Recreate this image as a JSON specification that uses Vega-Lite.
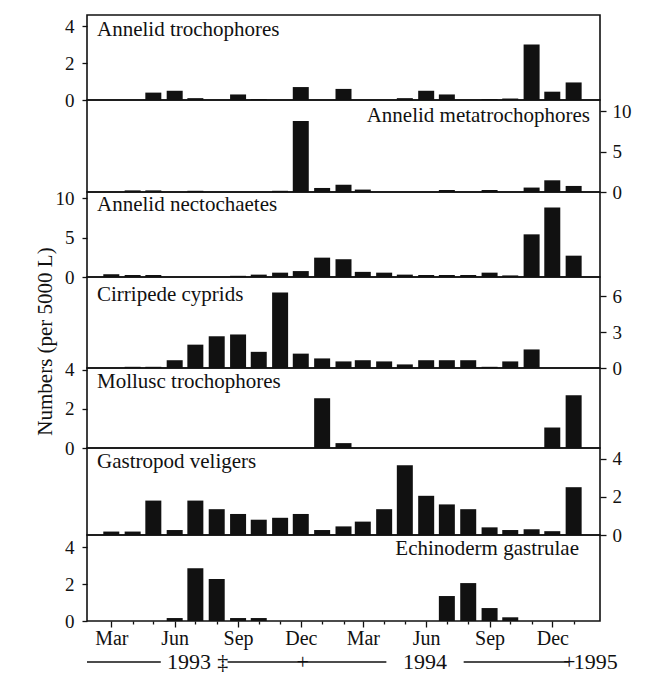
{
  "$schema": "https://vega.github.io/schema/vega-lite/v6.json",
  "padding": {"left": 33, "top": 14, "right": 0, "bottom": 0},
  "background": "#ffffff",
  "config": {
    "font": "Liberation Serif",
    "view": {"stroke": "#111111", "strokeWidth": 1.6},
    "axis": {
      "labelFont": "Liberation Serif",
      "labelFontSize": 19,
      "labelColor": "#111111",
      "labelOverlap": false,
      "tickColor": "#111111",
      "tickWidth": 1.3,
      "domain": false,
      "grid": false,
      "titleFont": "Liberation Serif",
      "titleFontSize": 21,
      "titleFontWeight": "normal",
      "titleColor": "#111111"
    },
    "bar": {"color": "#111111", "size": 16}
  },
  "datasets": {
    "counts": [
      {"taxon": "Annelid trochophores", "month": "1993-05-01", "count": 0.4},
      {"taxon": "Annelid trochophores", "month": "1993-06-01", "count": 0.5},
      {"taxon": "Annelid trochophores", "month": "1993-07-01", "count": 0.1},
      {"taxon": "Annelid trochophores", "month": "1993-09-01", "count": 0.3},
      {"taxon": "Annelid trochophores", "month": "1993-10-01", "count": 0.05},
      {"taxon": "Annelid trochophores", "month": "1993-12-01", "count": 0.7},
      {"taxon": "Annelid trochophores", "month": "1994-02-01", "count": 0.6},
      {"taxon": "Annelid trochophores", "month": "1994-05-01", "count": 0.1},
      {"taxon": "Annelid trochophores", "month": "1994-06-01", "count": 0.5},
      {"taxon": "Annelid trochophores", "month": "1994-07-01", "count": 0.3},
      {"taxon": "Annelid trochophores", "month": "1994-09-01", "count": 0.05},
      {"taxon": "Annelid trochophores", "month": "1994-10-01", "count": 0.08},
      {"taxon": "Annelid trochophores", "month": "1994-11-01", "count": 3.0},
      {"taxon": "Annelid trochophores", "month": "1994-12-01", "count": 0.45},
      {"taxon": "Annelid trochophores", "month": "1995-01-01", "count": 0.95},

      {"taxon": "Annelid metatrochophores", "month": "1993-04-01", "count": 0.2},
      {"taxon": "Annelid metatrochophores", "month": "1993-05-01", "count": 0.2},
      {"taxon": "Annelid metatrochophores", "month": "1993-07-01", "count": 0.15},
      {"taxon": "Annelid metatrochophores", "month": "1993-11-01", "count": 0.15},
      {"taxon": "Annelid metatrochophores", "month": "1993-12-01", "count": 8.8},
      {"taxon": "Annelid metatrochophores", "month": "1994-01-01", "count": 0.5},
      {"taxon": "Annelid metatrochophores", "month": "1994-02-01", "count": 0.9},
      {"taxon": "Annelid metatrochophores", "month": "1994-03-01", "count": 0.3},
      {"taxon": "Annelid metatrochophores", "month": "1994-07-01", "count": 0.25},
      {"taxon": "Annelid metatrochophores", "month": "1994-09-01", "count": 0.25},
      {"taxon": "Annelid metatrochophores", "month": "1994-11-01", "count": 0.55},
      {"taxon": "Annelid metatrochophores", "month": "1994-12-01", "count": 1.45},
      {"taxon": "Annelid metatrochophores", "month": "1995-01-01", "count": 0.75},

      {"taxon": "Annelid nectochaetes", "month": "1993-03-01", "count": 0.35},
      {"taxon": "Annelid nectochaetes", "month": "1993-04-01", "count": 0.25},
      {"taxon": "Annelid nectochaetes", "month": "1993-05-01", "count": 0.25},
      {"taxon": "Annelid nectochaetes", "month": "1993-09-01", "count": 0.15},
      {"taxon": "Annelid nectochaetes", "month": "1993-10-01", "count": 0.3},
      {"taxon": "Annelid nectochaetes", "month": "1993-11-01", "count": 0.55},
      {"taxon": "Annelid nectochaetes", "month": "1993-12-01", "count": 0.75},
      {"taxon": "Annelid nectochaetes", "month": "1994-01-01", "count": 2.45},
      {"taxon": "Annelid nectochaetes", "month": "1994-02-01", "count": 2.25},
      {"taxon": "Annelid nectochaetes", "month": "1994-03-01", "count": 0.65},
      {"taxon": "Annelid nectochaetes", "month": "1994-04-01", "count": 0.55},
      {"taxon": "Annelid nectochaetes", "month": "1994-05-01", "count": 0.3},
      {"taxon": "Annelid nectochaetes", "month": "1994-06-01", "count": 0.25},
      {"taxon": "Annelid nectochaetes", "month": "1994-07-01", "count": 0.25},
      {"taxon": "Annelid nectochaetes", "month": "1994-08-01", "count": 0.25},
      {"taxon": "Annelid nectochaetes", "month": "1994-09-01", "count": 0.55},
      {"taxon": "Annelid nectochaetes", "month": "1994-10-01", "count": 0.2},
      {"taxon": "Annelid nectochaetes", "month": "1994-11-01", "count": 5.4},
      {"taxon": "Annelid nectochaetes", "month": "1994-12-01", "count": 8.8},
      {"taxon": "Annelid nectochaetes", "month": "1995-01-01", "count": 2.7},

      {"taxon": "Cirripede cyprids", "month": "1993-04-01", "count": 0.1},
      {"taxon": "Cirripede cyprids", "month": "1993-05-01", "count": 0.1},
      {"taxon": "Cirripede cyprids", "month": "1993-06-01", "count": 0.65},
      {"taxon": "Cirripede cyprids", "month": "1993-07-01", "count": 1.95},
      {"taxon": "Cirripede cyprids", "month": "1993-08-01", "count": 2.65},
      {"taxon": "Cirripede cyprids", "month": "1993-09-01", "count": 2.8},
      {"taxon": "Cirripede cyprids", "month": "1993-10-01", "count": 1.35},
      {"taxon": "Cirripede cyprids", "month": "1993-11-01", "count": 6.3},
      {"taxon": "Cirripede cyprids", "month": "1993-12-01", "count": 1.2},
      {"taxon": "Cirripede cyprids", "month": "1994-01-01", "count": 0.8},
      {"taxon": "Cirripede cyprids", "month": "1994-02-01", "count": 0.55},
      {"taxon": "Cirripede cyprids", "month": "1994-03-01", "count": 0.65},
      {"taxon": "Cirripede cyprids", "month": "1994-04-01", "count": 0.55},
      {"taxon": "Cirripede cyprids", "month": "1994-05-01", "count": 0.3},
      {"taxon": "Cirripede cyprids", "month": "1994-06-01", "count": 0.65},
      {"taxon": "Cirripede cyprids", "month": "1994-07-01", "count": 0.65},
      {"taxon": "Cirripede cyprids", "month": "1994-08-01", "count": 0.65},
      {"taxon": "Cirripede cyprids", "month": "1994-09-01", "count": 0.1},
      {"taxon": "Cirripede cyprids", "month": "1994-10-01", "count": 0.55},
      {"taxon": "Cirripede cyprids", "month": "1994-11-01", "count": 1.55},

      {"taxon": "Mollusc trochophores", "month": "1994-01-01", "count": 2.55},
      {"taxon": "Mollusc trochophores", "month": "1994-02-01", "count": 0.25},
      {"taxon": "Mollusc trochophores", "month": "1994-12-01", "count": 1.05},
      {"taxon": "Mollusc trochophores", "month": "1995-01-01", "count": 2.7},

      {"taxon": "Gastropod veligers", "month": "1993-03-01", "count": 0.18},
      {"taxon": "Gastropod veligers", "month": "1993-04-01", "count": 0.18},
      {"taxon": "Gastropod veligers", "month": "1993-05-01", "count": 1.8},
      {"taxon": "Gastropod veligers", "month": "1993-06-01", "count": 0.26},
      {"taxon": "Gastropod veligers", "month": "1993-07-01", "count": 1.8},
      {"taxon": "Gastropod veligers", "month": "1993-08-01", "count": 1.35},
      {"taxon": "Gastropod veligers", "month": "1993-09-01", "count": 1.1},
      {"taxon": "Gastropod veligers", "month": "1993-10-01", "count": 0.8},
      {"taxon": "Gastropod veligers", "month": "1993-11-01", "count": 0.9},
      {"taxon": "Gastropod veligers", "month": "1993-12-01", "count": 1.1},
      {"taxon": "Gastropod veligers", "month": "1994-01-01", "count": 0.26},
      {"taxon": "Gastropod veligers", "month": "1994-02-01", "count": 0.45},
      {"taxon": "Gastropod veligers", "month": "1994-03-01", "count": 0.7},
      {"taxon": "Gastropod veligers", "month": "1994-04-01", "count": 1.35},
      {"taxon": "Gastropod veligers", "month": "1994-05-01", "count": 3.65},
      {"taxon": "Gastropod veligers", "month": "1994-06-01", "count": 2.05},
      {"taxon": "Gastropod veligers", "month": "1994-07-01", "count": 1.6},
      {"taxon": "Gastropod veligers", "month": "1994-08-01", "count": 1.35},
      {"taxon": "Gastropod veligers", "month": "1994-09-01", "count": 0.4},
      {"taxon": "Gastropod veligers", "month": "1994-10-01", "count": 0.26},
      {"taxon": "Gastropod veligers", "month": "1994-11-01", "count": 0.3},
      {"taxon": "Gastropod veligers", "month": "1994-12-01", "count": 0.2},
      {"taxon": "Gastropod veligers", "month": "1995-01-01", "count": 2.5},

      {"taxon": "Echinoderm gastrulae", "month": "1993-06-01", "count": 0.16},
      {"taxon": "Echinoderm gastrulae", "month": "1993-07-01", "count": 2.85},
      {"taxon": "Echinoderm gastrulae", "month": "1993-08-01", "count": 2.27},
      {"taxon": "Echinoderm gastrulae", "month": "1993-09-01", "count": 0.16},
      {"taxon": "Echinoderm gastrulae", "month": "1993-10-01", "count": 0.16},
      {"taxon": "Echinoderm gastrulae", "month": "1994-07-01", "count": 1.35},
      {"taxon": "Echinoderm gastrulae", "month": "1994-08-01", "count": 2.05},
      {"taxon": "Echinoderm gastrulae", "month": "1994-09-01", "count": 0.7},
      {"taxon": "Echinoderm gastrulae", "month": "1994-10-01", "count": 0.2}
    ],
    "yearSpans": [
      {"start": "1993-02-01", "end": "1993-05-17"},
      {"start": "1993-08-20", "end": "1994-04-03"},
      {"start": "1994-07-22", "end": "1994-12-19"}
    ],
    "yearLabels": [
      {"date": "1993-06-26", "text": "1993"},
      {"date": "1993-08-13", "text": "‡"},
      {"date": "1993-12-05", "text": "+"},
      {"date": "1994-05-28", "text": "1994"},
      {"date": "1994-12-19", "text": "+"},
      {"date": "1995-01-26", "text": "1995"}
    ]
  },
  "spacing": 0,
  "vconcat": [
    {
      "bounds": "flush",
      "spacing": 0,
      "vconcat": [
        {
          "width": 513, "height": 85,
          "resolve": {"axis": {"x": "independent", "y": "independent"}},
          "layer": [
            {
              "data": {"name": "counts"},
              "transform": [{"filter": {"field": "taxon", "equal": "Annelid trochophores"}}],
              "mark": {"type": "bar"},
              "encoding": {
                "x": {"field": "month", "type": "temporal", "axis": null,
                      "scale": {"type": "utc", "domain": [{"year": 1993, "month": 2, "date": 1, "utc": true}, {"year": 1995, "month": 2, "date": 1, "utc": true}]}},
                "y": {"field": "count", "type": "quantitative",
                      "scale": {"domain": [0, 4.6], "nice": false},
                      "axis": {"orient": "left", "values": [0, 2, 4], "tickSize": 5, "labelPadding": 8, "title": null}}
              }
            },
            {
              "data": {"values": [{"label": "Annelid trochophores"}]},
              "mark": {"type": "text", "font": "Liberation Serif", "fontSize": 21, "color": "#111111", "baseline": "alphabetic", "align": "left", "dx": 5, "dy": 21},
              "encoding": {
                "x": {"datum": {"year": 1993, "month": 2, "date": 1, "utc": true}, "type": "temporal", "axis": null},
                "y": {"datum": 4.6, "type": "quantitative", "axis": null},
                "text": {"field": "label"}
              }
            }
          ]
        },
        {
          "width": 513, "height": 92,
          "resolve": {"axis": {"x": "independent", "y": "independent"}},
          "layer": [
            {
              "data": {"name": "counts"},
              "transform": [{"filter": {"field": "taxon", "equal": "Annelid metatrochophores"}}],
              "mark": {"type": "bar"},
              "encoding": {
                "x": {"field": "month", "type": "temporal", "axis": null,
                      "scale": {"type": "utc", "domain": [{"year": 1993, "month": 2, "date": 1, "utc": true}, {"year": 1995, "month": 2, "date": 1, "utc": true}]}},
                "y": {"field": "count", "type": "quantitative",
                      "scale": {"domain": [0, 11.4], "nice": false},
                      "axis": {"orient": "right", "values": [0, 5, 10], "tickSize": 6, "labelPadding": 6, "title": null}}
              }
            },
            {
              "data": {"values": [{"label": "Annelid metatrochophores"}]},
              "mark": {"type": "text", "font": "Liberation Serif", "fontSize": 21, "color": "#111111", "baseline": "alphabetic", "align": "right", "dx": -5, "dy": 22},
              "encoding": {
                "x": {"datum": {"year": 1995, "month": 2, "date": 1, "utc": true}, "type": "temporal", "axis": null},
                "y": {"datum": 11.4, "type": "quantitative", "axis": null},
                "text": {"field": "label"}
              }
            }
          ]
        },
        {
          "width": 513, "height": 85,
          "resolve": {"axis": {"x": "independent", "y": "independent"}},
          "layer": [
            {
              "data": {"name": "counts"},
              "transform": [{"filter": {"field": "taxon", "equal": "Annelid nectochaetes"}}],
              "mark": {"type": "bar"},
              "encoding": {
                "x": {"field": "month", "type": "temporal", "axis": null,
                      "scale": {"type": "utc", "domain": [{"year": 1993, "month": 2, "date": 1, "utc": true}, {"year": 1995, "month": 2, "date": 1, "utc": true}]}},
                "y": {"field": "count", "type": "quantitative",
                      "scale": {"domain": [0, 10.76], "nice": false},
                      "axis": {"orient": "left", "values": [0, 5, 10], "tickSize": 5, "labelPadding": 8, "title": null}}
              }
            },
            {
              "data": {"values": [{"label": "Annelid nectochaetes"}]},
              "mark": {"type": "text", "font": "Liberation Serif", "fontSize": 21, "color": "#111111", "baseline": "alphabetic", "align": "left", "dx": 5, "dy": 19},
              "encoding": {
                "x": {"datum": {"year": 1993, "month": 2, "date": 1, "utc": true}, "type": "temporal", "axis": null},
                "y": {"datum": 10.76, "type": "quantitative", "axis": null},
                "text": {"field": "label"}
              }
            }
          ]
        },
        {
          "width": 513, "height": 91,
          "resolve": {"axis": {"x": "independent", "y": "independent"}},
          "layer": [
            {
              "data": {"name": "counts"},
              "transform": [{"filter": {"field": "taxon", "equal": "Cirripede cyprids"}}],
              "mark": {"type": "bar"},
              "encoding": {
                "x": {"field": "month", "type": "temporal", "axis": null,
                      "scale": {"type": "utc", "domain": [{"year": 1993, "month": 2, "date": 1, "utc": true}, {"year": 1995, "month": 2, "date": 1, "utc": true}]}},
                "y": {"field": "count", "type": "quantitative",
                      "scale": {"domain": [0, 7.6], "nice": false},
                      "axis": {"orient": "right", "values": [0, 3, 6], "tickSize": 6, "labelPadding": 6, "title": null}}
              }
            },
            {
              "data": {"values": [{"label": "Cirripede cyprids"}]},
              "mark": {"type": "text", "font": "Liberation Serif", "fontSize": 21, "color": "#111111", "baseline": "alphabetic", "align": "left", "dx": 5, "dy": 24},
              "encoding": {
                "x": {"datum": {"year": 1993, "month": 2, "date": 1, "utc": true}, "type": "temporal", "axis": null},
                "y": {"datum": 7.6, "type": "quantitative", "axis": null},
                "text": {"field": "label"}
              }
            }
          ]
        },
        {
          "width": 513, "height": 80,
          "resolve": {"axis": {"x": "independent", "y": "independent"}},
          "layer": [
            {
              "data": {"name": "counts"},
              "transform": [{"filter": {"field": "taxon", "equal": "Mollusc trochophores"}}],
              "mark": {"type": "bar"},
              "encoding": {
                "x": {"field": "month", "type": "temporal", "axis": null,
                      "scale": {"type": "utc", "domain": [{"year": 1993, "month": 2, "date": 1, "utc": true}, {"year": 1995, "month": 2, "date": 1, "utc": true}]}},
                "y": {"field": "count", "type": "quantitative",
                      "scale": {"domain": [0, 4.1], "nice": false},
                      "axis": {"orient": "left", "values": [0, 2, 4], "tickSize": 5, "labelPadding": 8,
                               "title": "Numbers (per 5000 L)", "titleX": -32, "titleY": -27,
                               "titleAngle": 270, "titleAlign": "center", "titleBaseline": "bottom"}}
              }
            },
            {
              "data": {"values": [{"label": "Mollusc trochophores"}]},
              "mark": {"type": "text", "font": "Liberation Serif", "fontSize": 21, "color": "#111111", "baseline": "alphabetic", "align": "left", "dx": 5, "dy": 20},
              "encoding": {
                "x": {"datum": {"year": 1993, "month": 2, "date": 1, "utc": true}, "type": "temporal", "axis": null},
                "y": {"datum": 4.1, "type": "quantitative", "axis": null},
                "text": {"field": "label"}
              }
            }
          ]
        },
        {
          "width": 513, "height": 87,
          "resolve": {"axis": {"x": "independent", "y": "independent"}},
          "layer": [
            {
              "data": {"name": "counts"},
              "transform": [{"filter": {"field": "taxon", "equal": "Gastropod veligers"}}],
              "mark": {"type": "bar"},
              "encoding": {
                "x": {"field": "month", "type": "temporal", "axis": null,
                      "scale": {"type": "utc", "domain": [{"year": 1993, "month": 2, "date": 1, "utc": true}, {"year": 1995, "month": 2, "date": 1, "utc": true}]}},
                "y": {"field": "count", "type": "quantitative",
                      "scale": {"domain": [0, 4.55], "nice": false},
                      "axis": {"orient": "right", "values": [0, 2, 4], "tickSize": 6, "labelPadding": 6, "title": null}}
              }
            },
            {
              "data": {"values": [{"label": "Gastropod veligers"}]},
              "mark": {"type": "text", "font": "Liberation Serif", "fontSize": 21, "color": "#111111", "baseline": "alphabetic", "align": "left", "dx": 5, "dy": 20},
              "encoding": {
                "x": {"datum": {"year": 1993, "month": 2, "date": 1, "utc": true}, "type": "temporal", "axis": null},
                "y": {"datum": 4.55, "type": "quantitative", "axis": null},
                "text": {"field": "label"}
              }
            }
          ]
        },
        {
          "width": 513, "height": 86,
          "resolve": {"axis": {"x": "independent", "y": "independent"}},
          "layer": [
            {
              "data": {"name": "counts"},
              "transform": [{"filter": {"field": "taxon", "equal": "Echinoderm gastrulae"}}],
              "mark": {"type": "bar"},
              "encoding": {
                "x": {"field": "month", "type": "temporal",
                      "scale": {"type": "utc", "domain": [{"year": 1993, "month": 2, "date": 1, "utc": true}, {"year": 1995, "month": 2, "date": 1, "utc": true}]},
                      "axis": {
                        "orient": "bottom", "title": null,
                        "values": [
                          {"year": 1993, "month": 3, "date": 1, "utc": true},
                          {"year": 1993, "month": 4, "date": 1, "utc": true},
                          {"year": 1993, "month": 5, "date": 1, "utc": true},
                          {"year": 1993, "month": 6, "date": 1, "utc": true},
                          {"year": 1993, "month": 7, "date": 1, "utc": true},
                          {"year": 1993, "month": 8, "date": 1, "utc": true},
                          {"year": 1993, "month": 9, "date": 1, "utc": true},
                          {"year": 1993, "month": 10, "date": 1, "utc": true},
                          {"year": 1993, "month": 11, "date": 1, "utc": true},
                          {"year": 1993, "month": 12, "date": 1, "utc": true},
                          {"year": 1994, "month": 1, "date": 1, "utc": true},
                          {"year": 1994, "month": 2, "date": 1, "utc": true},
                          {"year": 1994, "month": 3, "date": 1, "utc": true},
                          {"year": 1994, "month": 4, "date": 1, "utc": true},
                          {"year": 1994, "month": 5, "date": 1, "utc": true},
                          {"year": 1994, "month": 6, "date": 1, "utc": true},
                          {"year": 1994, "month": 7, "date": 1, "utc": true},
                          {"year": 1994, "month": 8, "date": 1, "utc": true},
                          {"year": 1994, "month": 9, "date": 1, "utc": true},
                          {"year": 1994, "month": 10, "date": 1, "utc": true},
                          {"year": 1994, "month": 11, "date": 1, "utc": true},
                          {"year": 1994, "month": 12, "date": 1, "utc": true},
                          {"year": 1995, "month": 1, "date": 1, "utc": true}
                        ],
                        "labelExpr": "utcmonth(datum.value) % 3 == 2 ? utcFormat(datum.value, '%b') : ''",
                        "tickSize": {"condition": {"test": "utcmonth(datum.value) % 3 == 2", "value": 6}, "value": 3},
                        "labelPadding": 1,
                        "labelFontSize": 20,
                        "labelOverlap": false,
                        "labelFlush": false,
                        "labelBaseline": "top"
                      }},
                "y": {"field": "count", "type": "quantitative",
                      "scale": {"domain": [0, 4.65], "nice": false},
                      "axis": {"orient": "left", "values": [0, 2, 4], "tickSize": 5, "labelPadding": 8, "title": null}}
              }
            },
            {
              "data": {"values": [{"label": "Echinoderm gastrulae"}]},
              "mark": {"type": "text", "font": "Liberation Serif", "fontSize": 21, "color": "#111111", "baseline": "alphabetic", "align": "right", "dx": -16, "dy": 20},
              "encoding": {
                "x": {"datum": {"year": 1995, "month": 2, "date": 1, "utc": true}, "type": "temporal", "axis": null},
                "y": {"datum": 4.65, "type": "quantitative", "axis": null},
                "text": {"field": "label"}
              }
            }
          ]
        }
      ]
    },
    {
      "width": 513, "height": 26,
      "view": {"stroke": null},
      "layer": [
        {
          "data": {"name": "yearSpans"},
          "mark": {"type": "rule", "color": "#111111", "strokeWidth": 1.3},
          "encoding": {
            "x": {"field": "start", "type": "temporal", "axis": null,
                  "scale": {"type": "utc", "domain": [{"year": 1993, "month": 2, "date": 1, "utc": true}, {"year": 1995, "month": 2, "date": 1, "utc": true}]}},
            "x2": {"field": "end"}
          }
        },
        {
          "data": {"name": "yearLabels"},
          "mark": {"type": "text", "font": "Liberation Serif", "fontSize": 22, "color": "#111111", "baseline": "middle", "align": "center"},
          "encoding": {
            "x": {"field": "date", "type": "temporal", "axis": null},
            "text": {"field": "text"}
          }
        }
      ]
    }
  ]
}
